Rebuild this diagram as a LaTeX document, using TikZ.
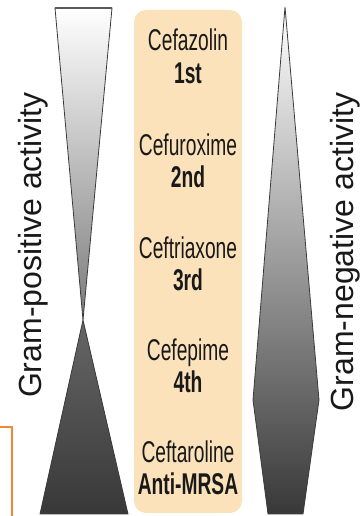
\documentclass[tikz,border=0pt]{standalone}
\usepackage{fontspec}
\setmainfont{Liberation Sans}
\newfontfamily\condfont[FakeStretch=0.64]{Liberation Sans}
\definecolor{peach}{HTML}{FBE2BB}
\definecolor{orangeline}{HTML}{F0883A}
\definecolor{edgegray}{HTML}{3A3A3A}
\begin{document}
\begin{tikzpicture}[x=1pt,y=1pt,
  drug/.style={font=\condfont\fontsize{30}{30}\selectfont, anchor=base, inner sep=0pt, text=black!90},
  gen/.style={font=\condfont\bfseries\fontsize{30}{30}\selectfont, anchor=base, inner sep=0pt, text=black!90},
  axislabel/.style={font=\fontsize{32}{32}\selectfont, rotate=90, anchor=base, inner sep=0pt, text=black!90},
  wedge/.style={draw=edgegray, line width=0.8pt, line join=miter}]
\useasboundingbox (0,0) rectangle (359,516);
% central box
\fill[peach, rounded corners=12pt] (134,3) rectangle (242,506);
% left shape
\path[wedge, top color=white, bottom color=black!52] (55,508) -- (112,508) -- (83,196) -- cycle;
\draw[black!65, line width=2pt] (55,508) -- (112,508);
\path[wedge, top color=black!60, bottom color=black!78] (83,196) -- (128,2) -- (40,2) -- cycle;
% right shape
\path[wedge, top color=white, middle color=black!58, bottom color=black!78]
  (285,509) -- (319,116) -- (303,2) -- (268,2) -- (253,116) -- cycle;
% orange bracket
\draw[orangeline, line width=1.3pt] (0,89) -- (12,89) -- (12,0);
% texts
\node[drug] (d1) at (188,465) {Cefazolin};
\node[gen]  (g1) at (188,432) {1st};
\node[drug] (d2) at (188,360) {Cefuroxime};
\node[gen]  (g2) at (188,328) {2nd};
\node[drug] (d3) at (188,257) {Ceftriaxone};
\node[gen]  (g3) at (188,225) {3rd};
\node[drug] (d4) at (188,155) {Cefepime};
\node[gen]  (g4) at (188,123) {4th};
\node[drug] (d5) at (188,53) {Ceftaroline};
\node[gen]  (g5) at (188,21) {Anti-MRSA};
\node[axislabel] (gp) at (41,271) {Gram-positive activity};
\node[axislabel] (gn) at (353,264) {Gram-negative activity};
\end{tikzpicture}
\end{document}
